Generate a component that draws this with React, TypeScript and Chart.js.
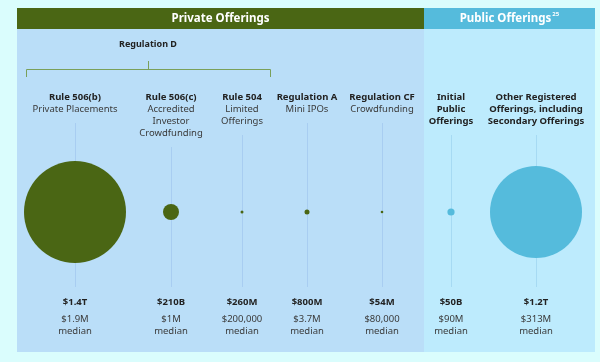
import React, { useEffect, useRef } from "react";
import { Chart, registerables } from "chart.js";

Chart.register(...registerables);

// ---- data ----
const titles: string[][] = [
  ["Rule 506(b)"],
  ["Rule 506(c)"],
  ["Rule 504"],
  ["Regulation A"],
  ["Regulation CF"],
  ["Initial", "Public", "Offerings"],
  ["Other Registered", "Offerings, including", "Secondary Offerings"],
];
const subtitles: string[][] = [
  ["Private Placements"],
  ["Accredited", "Investor", "Crowdfunding"],
  ["Limited", "Offerings"],
  ["Mini IPOs"],
  ["Crowdfunding"],
  [],
  [],
];
const totalRaised: string[] = ["$1.4T", "$210B", "$260M", "$800M", "$54M", "$50B", "$1.2T"];
const medianRaised: string[] = ["$1.9M", "$1M", "$200,000", "$3.7M", "$80,000", "$90M", "$313M"];
const bubbleRadius: number[] = [51, 8, 1.5, 2.5, 1.3, 3.6, 46];
const isPublic: boolean[] = [false, false, false, false, false, true, true];

// ---- layout (chart units = px of 600x362 frame) ----
const COLUMN_X = [75, 171, 242, 307, 382, 451, 536];
const BUBBLE_ROW = 212;
const PANEL = { left: 17, right: 595, top: 8, headerBottom: 29, bottom: 352, split: 424 };

const GREEN = "#4a6614";
const BLUE = "#55bbdc";
const FONT = "'Noto Sans', 'Open Sans', sans-serif";

export default function App() {
  const ref = useRef<HTMLCanvasElement | null>(null);

  useEffect(() => {
    if (!ref.current) return;
    const decor = {
      id: "decor",
      beforeDatasetsDraw(chart: any) {
        const { ctx, scales } = chart;
        const X = (v: number) => scales.x.getPixelForValue(v);
        const Y = (v: number) => scales.y.getPixelForValue(v);
        ctx.save();
        // page bg
        ctx.fillStyle = "#dafdfd";
        ctx.fillRect(0, 0, chart.width, chart.height);
        // panels
        ctx.fillStyle = "#badef8";
        ctx.fillRect(X(PANEL.left), Y(PANEL.top), X(PANEL.split) - X(PANEL.left), Y(PANEL.bottom) - Y(PANEL.top));
        ctx.fillStyle = "#bdebfd";
        ctx.fillRect(X(PANEL.split), Y(PANEL.top), X(PANEL.right) - X(PANEL.split), Y(PANEL.bottom) - Y(PANEL.top));
        // headers
        ctx.fillStyle = GREEN;
        ctx.fillRect(X(PANEL.left), Y(PANEL.top), X(PANEL.split) - X(PANEL.left), Y(PANEL.headerBottom) - Y(PANEL.top));
        ctx.fillStyle = BLUE;
        ctx.fillRect(X(PANEL.split), Y(PANEL.top), X(PANEL.right) - X(PANEL.split), Y(PANEL.headerBottom) - Y(PANEL.top));
        ctx.fillStyle = "#ffffff";
        ctx.textAlign = "center";
        ctx.textBaseline = "middle";
        ctx.font = `bold 11.5px ${FONT}`;
        const hy = (Y(PANEL.top) + Y(PANEL.headerBottom)) / 2;
        ctx.fillText("Private Offerings", (X(PANEL.left) + X(PANEL.split)) / 2, hy);
        const pubX = (X(PANEL.split) + X(PANEL.right)) / 2;
        const pubW = ctx.measureText("Public Offerings").width;
        ctx.fillText("Public Offerings", pubX - 4, hy);
        ctx.font = `bold 6px ${FONT}`;
        ctx.textAlign = "left";
        ctx.fillText("25", pubX - 4 + pubW / 2 + 1, hy - 4);

        // Regulation D bracket
        ctx.fillStyle = "#222";
        ctx.textAlign = "center";
        ctx.font = `bold 9px ${FONT}`;
        ctx.fillText("Regulation D", X(148), Y(44.5));
        ctx.strokeStyle = "#7aa05a";
        ctx.lineWidth = 1;
        ctx.beginPath();
        ctx.moveTo(X(148) + 0.5, Y(61));
        ctx.lineTo(X(148) + 0.5, Y(69) + 0.5);
        ctx.moveTo(X(26) + 0.5, Y(77));
        ctx.lineTo(X(26) + 0.5, Y(69) + 0.5);
        ctx.lineTo(X(270) + 0.5, Y(69) + 0.5);
        ctx.lineTo(X(270) + 0.5, Y(77));
        ctx.stroke();

        // columns
        const lh = 12;
        COLUMN_X.forEach((cx, i) => {
          const px = X(cx);
          let y = Y(97);
          ctx.fillStyle = "#222";
          ctx.font = `bold 9.5px ${FONT}`;
          titles[i].forEach((t) => {
            ctx.fillText(t, px, y);
            y += lh;
          });
          ctx.fillStyle = "#3a3a3a";
          ctx.font = `9.5px ${FONT}`;
          subtitles[i].forEach((t) => {
            ctx.fillText(t, px, y);
            y += lh;
          });
          // guide line
          ctx.strokeStyle = isPublic[i] ? "#a6daf3" : "#a8cdf1";
          ctx.beginPath();
          ctx.moveTo(Math.round(px) + 0.5, y + 2);
          ctx.lineTo(Math.round(px) + 0.5, Y(287));
          ctx.stroke();
          // bottom labels
          ctx.fillStyle = "#222";
          ctx.font = `bold 9.5px ${FONT}`;
          ctx.fillText(totalRaised[i], px, Y(302));
          ctx.fillStyle = "#3a3a3a";
          ctx.font = `9.5px ${FONT}`;
          ctx.fillText(medianRaised[i], px, Y(319));
          ctx.fillText("median", px, Y(331));
        });
        ctx.restore();
      },
    };

    const chart = new Chart(ref.current, {
      type: "bubble",
      data: {
        datasets: [
          {
            data: COLUMN_X.map((x, i) => ({ x, y: BUBBLE_ROW, r: bubbleRadius[i] })),
            backgroundColor: isPublic.map((p) => (p ? BLUE : GREEN)),
            borderWidth: 0,
            hoverRadius: 0,
            clip: false,
          },
        ],
      },
      options: {
        animation: false,
        responsive: false,
        maintainAspectRatio: false,
        layout: { padding: 0, autoPadding: false },
        plugins: { legend: { display: false }, tooltip: { enabled: false } },
        scales: {
          x: { type: "linear", min: 0, max: 600, display: false },
          y: { type: "linear", min: 0, max: 362, reverse: true, display: false },
        },
      },
      plugins: [decor],
    });
    return () => chart.destroy();
  }, []);

  return (
    <div style={{ position: "fixed", left: 0, top: 0, width: 600, height: 362, background: "#dafdfd" }}>
      <canvas ref={ref} width={600} height={362} style={{ display: "block" }} />
    </div>
  );
}
